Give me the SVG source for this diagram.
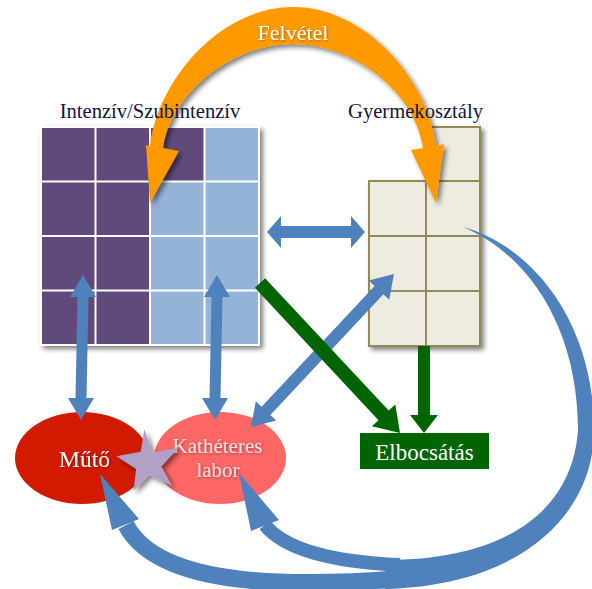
<svg xmlns="http://www.w3.org/2000/svg" width="592" height="589" viewBox="0 0 592 589">
<defs>
<style>
.serif{font-family:"Liberation Serif","Times New Roman",serif;}
.title{font-size:20.6px;fill:#14143c;}
.pur{fill:#604a7b;}
.lb{fill:#95b3d7;}
.gc{fill:#eeece1;stroke:#948a54;stroke-width:2;}
.blue{fill:#4f81bd;}
.bshaft{fill:none;stroke:#4f81bd;}
.green{fill:#006400;}
.wt{fill:#ffffff;}
</style>
<filter id="sh" x="-20%" y="-20%" width="150%" height="150%">
<feGaussianBlur in="SourceAlpha" stdDeviation="2.5"/>
<feOffset dx="3" dy="3" result="o"/>
<feComponentTransfer><feFuncA type="linear" slope="0.5"/></feComponentTransfer>
<feMerge><feMergeNode/><feMergeNode in="SourceGraphic"/></feMerge>
</filter>
<filter id="tsh" x="-10%" y="-20%" width="130%" height="150%">
<feGaussianBlur in="SourceAlpha" stdDeviation="1"/>
<feOffset dx="1" dy="1"/>
<feComponentTransfer><feFuncA type="linear" slope="0.35"/></feComponentTransfer>
<feMerge><feMergeNode/><feMergeNode in="SourceGraphic"/></feMerge>
</filter>
</defs>
<rect width="592" height="589" fill="#ffffff"/>

<g id="intenziv">
<rect x="40" y="126" width="220" height="220" fill="#ffffff" filter="url(#sh)"/>
<rect class="pur" x="42" y="128" width="52.5" height="52.5"/>
<rect class="pur" x="96.5" y="128" width="52.5" height="52.5"/>
<rect class="pur" x="151" y="128" width="52.5" height="52.5"/>
<rect class="lb" x="205.5" y="128" width="52.5" height="52.5"/>
<rect class="pur" x="42" y="182.5" width="52.5" height="52.5"/>
<rect class="pur" x="96.5" y="182.5" width="52.5" height="52.5"/>
<rect class="lb" x="151" y="182.5" width="52.5" height="52.5"/>
<rect class="lb" x="205.5" y="182.5" width="52.5" height="52.5"/>
<rect class="pur" x="42" y="237" width="52.5" height="52.5"/>
<rect class="pur" x="96.5" y="237" width="52.5" height="52.5"/>
<rect class="lb" x="151" y="237" width="52.5" height="52.5"/>
<rect class="lb" x="205.5" y="237" width="52.5" height="52.5"/>
<rect class="pur" x="42" y="291.5" width="52.5" height="52.5"/>
<rect class="pur" x="96.5" y="291.5" width="52.5" height="52.5"/>
<rect class="lb" x="151" y="291.5" width="52.5" height="52.5"/>
<rect class="lb" x="205.5" y="291.5" width="52.5" height="52.5"/>
</g>

<g id="gyermek" filter="url(#sh)">
<rect class="gc" x="426" y="127" width="54" height="54"/>
<rect class="gc" x="369" y="181" width="57" height="55"/>
<rect class="gc" x="426" y="181" width="54" height="55"/>
<rect class="gc" x="369" y="236" width="57" height="55"/>
<rect class="gc" x="426" y="236" width="54" height="55"/>
<rect class="gc" x="369" y="291" width="57" height="55"/>
<rect class="gc" x="426" y="291" width="54" height="55"/>
</g>

<g id="muto">
<ellipse cx="82" cy="458" rx="67" ry="46" fill="#d21a00"/>
<text class="serif wt" x="84.5" y="467" font-size="23.5" text-anchor="middle" filter="url(#tsh)">Műtő</text>
</g>

<g id="katheteres">
<ellipse cx="220" cy="458" rx="66" ry="46" fill="#ff6666"/>
<text class="serif" x="217.5" y="453" font-size="21" text-anchor="middle" fill="#f8e4e4" filter="url(#tsh)">Kathéteres</text>
<text class="serif" x="218" y="477" font-size="21" text-anchor="middle" fill="#f8e4e4" filter="url(#tsh)">labor</text>
</g>

<g id="star" filter="url(#sh)">
<polygon fill="#b2a1c7" points="144.4,429.3 152.6,452.6 178.7,447.5 161.3,466.4 171.9,485.7 149.3,474.9 133.5,491.1 136.1,469.1 116.5,456.3 140.7,451.8"/>
</g>

<g id="elbocsatas">
<rect x="360" y="433" width="129" height="36" fill="#006400"/>
<text class="serif wt" x="424.5" y="460" font-size="23" text-anchor="middle">Elbocsátás</text>
</g>

<g id="connectors">
<path id="felvetel-arrow" fill="#ff9900" filter="url(#sh)" d="M150,146 C158,80 220,7 293,7 C366,7 428,80 436,146 L444,144 L436,203 L411,150 L423,148 C416,95 356,44 293,44 C230,44 170,95 163,148 L179,151 L150,203 L146,145 Z"/>
<polygon class="blue" points="267,232 281,216 281,226 351,226 351,216 365,232 351,248 351,238 281,238 281,248"/>
<polygon class="blue" points="83,275 96,297 88.5,297 86.5,398 94,398 81,420 68,398 75.5,398 77.5,297 70,297"/>
<polygon class="blue" points="217,275 230,297 222.5,297 220.5,398 228,398 215,420 202,398 209.5,398 211.5,297 204,297"/>
<polygon class="blue" points="394,274 389.2,299.7 383.4,294.2 270.4,415 276.2,420.5 251,427 255.8,401.3 261.6,406.8 374.6,285.9 368.8,280.5"/>
<path class="blue" d="M463,227 C530,245 594,320 594,430 C594,515 520,586 385,589 L385,560 C500,560 572,515 578,430 C578,330 530,255 463,227 Z"/>
<path class="bshaft" stroke-width="17" d="M400,579 C300,586 160,590 126,525"/>
<polygon class="blue" points="100,474 139,519 112,530"/>
<path class="bshaft" stroke-width="14" d="M400,565 C335,562 285,550 265,525"/>
<polygon class="blue" points="239,473 279,520 251,531"/>
<polygon class="green" points="265.1,278.2 388.7,410.6 395.3,404.5 400,433 371.9,426.3 378.5,420.2 254.9,287.8"/>
<polygon class="green" points="418,346 430,346 430,415 438,415 424,433 410,415 418,415"/>
</g>

<g id="labels">
<text class="serif title" x="150" y="118" text-anchor="middle">Intenzív/Szubintenzív</text>
<text class="serif title" x="415.5" y="118" text-anchor="middle">Gyermekosztály</text>
<text class="serif wt" x="293" y="40" font-size="22" text-anchor="middle" filter="url(#tsh)">Felvétel</text>
</g>
</svg>
